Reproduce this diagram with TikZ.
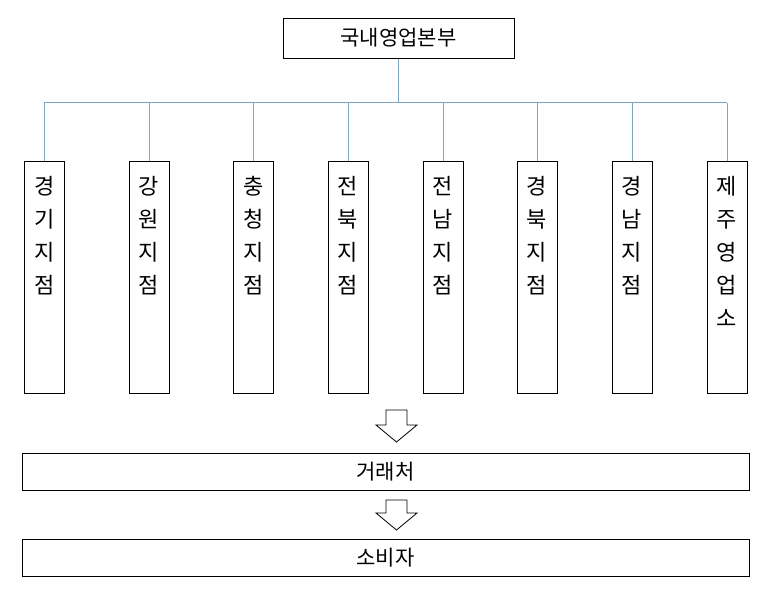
\documentclass[tikz,border=0pt]{standalone}
\usepackage{fontspec}
\setmainfont{Noto Sans CJK KR}
\begin{document}
\begin{tikzpicture}[x=1pt,y=-1pt,
  bx/.style={draw=black,line width=1pt,inner sep=0pt},
  conn/.style={draw=lnc,line width=1pt},
  harrow/.style={draw=black,line width=0.8pt,fill=white}]
\definecolor{lnc}{HTML}{7FA6C0}
\useasboundingbox (0,0) rectangle (770,605);
\node[bx,minimum width=231,minimum height=40,font=\fontsize{21}{24}\selectfont] (top) at (398.5,38) {국내영업본부};
\coordinate (hl) at (44,102.5);
\coordinate (hr) at (727,102.5);
\coordinate (hm) at (398.5,102.5);
\draw[conn] (hl) -- (hr);
\draw[conn] (top.south) -- (hm);
\foreach \n/\x/\t in {a/44.5/경\\기\\지\\점, b/149/강\\원\\지\\점, c/253.5/충\\청\\지\\점, d/348/전\\북\\지\\점, e/443/전\\남\\지\\점, f/537/경\\북\\지\\점, g/632/경\\남\\지\\점, h/727/제\\주\\영\\업\\소}{
  \node[bx,minimum width=40,minimum height=232,anchor=north] (\n) at (\x,161) {};
  \node[align=center,font=\fontsize{22}{33}\selectfont,anchor=north,inner sep=0pt] at (\x,176) {\t};
  \coordinate (\n t) at (\x,102.5);
  \draw[conn] (\n t) -- (\n.north);
}
\node[bx,minimum width=727,minimum height=37,font=\fontsize{21}{24}\selectfont] (c1) at (385.5,471.5) {거래처};
\node[bx,minimum width=727,minimum height=37,font=\fontsize{21}{24}\selectfont] (c2) at (385.5,557.5) {소비자};
\draw[harrow] (386,410) -- (407,410) -- (407,425) -- (417,425) -- (396.5,442) -- (376,425) -- (386,425) -- cycle;
\draw[harrow] (386,500) -- (407,500) -- (407,513) -- (417,513) -- (396.5,530) -- (376,513) -- (386,513) -- cycle;
\end{tikzpicture}
\end{document}
